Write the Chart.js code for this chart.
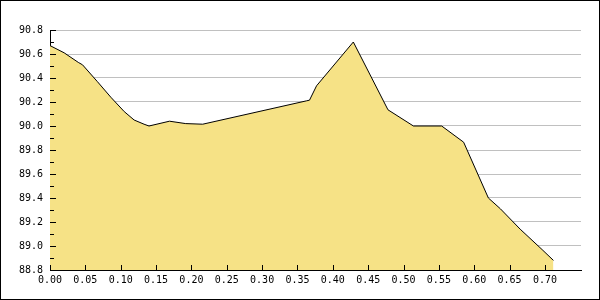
<!DOCTYPE html>
<html>
<head>
<meta charset="utf-8">
<script src="https://cdn.jsdelivr.net/npm/chart.js@4/dist/chart.umd.min.js"></script>
<style>
  html, body { margin: 0; padding: 0; background: #fff; }
  #wrap { width: 600px; height: 300px; }
</style>
</head>
<body>
<div id="wrap"><canvas id="myChart" width="600" height="300"></canvas></div>
<script>
// data
const xValues = [0.000, 0.020, 0.040, 0.046, 0.067, 0.086, 0.105, 0.119, 0.133, 0.140,
  0.169, 0.192, 0.216, 0.363, 0.367, 0.377, 0.429, 0.478, 0.514, 0.554,
  0.585, 0.620, 0.637, 0.665, 0.696, 0.712];
const yValues = [90.67, 90.61, 90.53, 90.51, 90.37, 90.24, 90.12, 90.05, 90.015, 90.00,
  90.04, 90.02, 90.015, 90.21, 90.215, 90.335, 90.70, 90.135, 90.00, 90.00,
  89.865, 89.40, 89.31, 89.14, 88.97, 88.88];
const xTicks = [0.00, 0.05, 0.10, 0.15, 0.20, 0.25, 0.30, 0.35, 0.40, 0.45, 0.50, 0.55, 0.60, 0.65, 0.70];
const yTicks = [88.8, 89.0, 89.2, 89.4, 89.6, 89.8, 90.0, 90.2, 90.4, 90.6, 90.8];

const font = { family: '"DejaVu Sans Mono", monospace', size: 10 };

// inward tick marks + outer frame
const tickMarks = {
  id: 'tickMarks',
  afterDraw(chart) {
    const { ctx, scales: { x, y }, chartArea } = chart;
    ctx.save();
    ctx.strokeStyle = '#000';
    ctx.lineWidth = 1;
    ctx.beginPath();
    for (let i = 0; i < yTicks.length; i++) {
      const py = Math.round(y.getPixelForValue(yTicks[i])) + 0.5;
      ctx.moveTo(chartArea.left, py);
      ctx.lineTo(chartArea.left + 6, py);
      if (i < yTicks.length - 1) {
        const my = Math.round(y.getPixelForValue(yTicks[i] + 0.1)) + 0.5;
        ctx.moveTo(chartArea.left, my);
        ctx.lineTo(chartArea.left + 4, my);
      }
    }
    xTicks.forEach((v) => {
      const px = Math.round(x.getPixelForValue(v)) + 0.5;
      ctx.moveTo(px, chartArea.bottom);
      ctx.lineTo(px, chartArea.bottom - 5);
    });
    ctx.stroke();
    ctx.strokeRect(0.5, 0.5, chart.width - 1, chart.height - 1);
    ctx.restore();
  },
};

new Chart(document.getElementById('myChart'), {
  type: 'line',
  data: {
    datasets: [{
      data: xValues.map((v, i) => ({ x: v, y: yValues[i] })),
      borderColor: '#000',
      borderWidth: 1,
      backgroundColor: '#f6e286',
      fill: 'start',
      pointRadius: 0,
      tension: 0,
    }],
  },
  options: {
    responsive: false,
    animation: false,
    layout: { padding: { left: 0, top: 30, right: 19, bottom: 0 } },
    plugins: { legend: { display: false }, tooltip: { enabled: false } },
    scales: {
      x: {
        type: 'linear',
        min: 0,
        max: 0.751,
        afterBuildTicks: (scale) => { scale.ticks = xTicks.map((v) => ({ value: v })); },
        afterFit: (scale) => { scale.height = 30; },
        grid: { display: false, drawTicks: false },
        border: { display: true, color: '#000', width: 1 },
        ticks: {
          font,
          color: '#000',
          padding: 4,
          maxRotation: 0,
          autoSkip: false,
          callback: (v) => v.toFixed(2),
        },
      },
      y: {
        min: 88.8,
        max: 90.8,
        afterBuildTicks: (scale) => { scale.ticks = yTicks.map((v) => ({ value: v })); },
        afterFit: (scale) => { scale.width = 50; },
        grid: { display: true, drawTicks: false, color: '#c0c0c0', lineWidth: 1 },
        border: { display: true, color: '#000', width: 1 },
        ticks: {
          font,
          color: '#000',
          padding: 7,
          callback: (v) => v.toFixed(1),
        },
      },
    },
  },
  plugins: [tickMarks],
});
</script>
</body>
</html>
